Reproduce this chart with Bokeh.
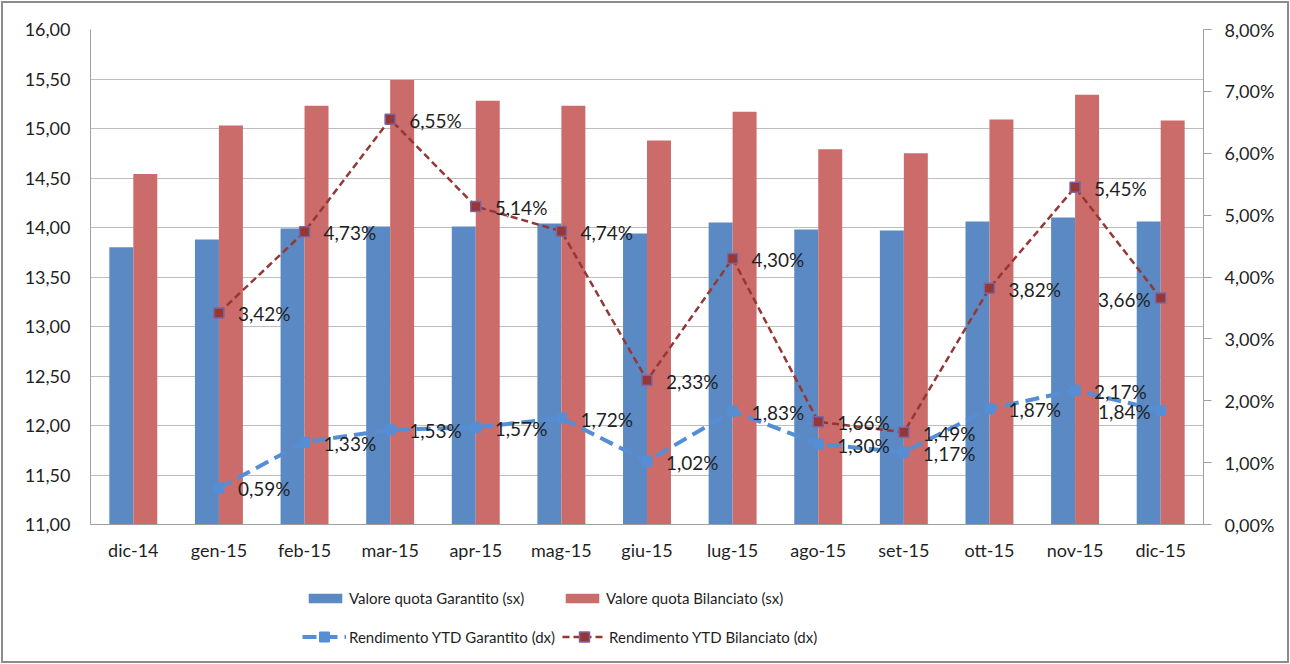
from bokeh.plotting import figure
from bokeh.layouts import column
from bokeh.models import (FactorRange, Range1d, LinearAxis, CustomJSTickFormatter,
                          FixedTicker, ColumnDataSource, InlineStyleSheet, Legend, LegendItem)
from bokeh.transform import dodge
from bokeh.core.properties import value
from bokeh.embed import file_html
from bokeh.resources import INLINE

months = ["dic-14", "gen-15", "feb-15", "mar-15", "apr-15", "mag-15", "giu-15",
          "lug-15", "ago-15", "set-15", "ott-15", "nov-15", "dic-15"]
valore_garantito = [13.80, 13.88, 13.99, 14.01, 14.01, 14.04, 13.94, 14.05, 13.98, 13.97, 14.06, 14.10, 14.06]
valore_bilanciato = [14.54, 15.03, 15.23, 15.49, 15.28, 15.23, 14.88, 15.17, 14.79, 14.75, 15.09, 15.34, 15.08]
rend_months = months[1:]
rend_garantito = [0.59, 1.33, 1.53, 1.57, 1.72, 1.02, 1.83, 1.30, 1.17, 1.87, 2.17, 1.84]
rend_bilanciato = [3.42, 4.73, 6.55, 5.14, 4.74, 2.33, 4.30, 1.66, 1.49, 3.82, 5.45, 3.66]
left_ticks = [11.0, 11.5, 12.0, 12.5, 13.0, 13.5, 14.0, 14.5, 15.0, 15.5, 16.0]
right_ticks = [0, 1, 2, 3, 4, 5, 6, 7, 8]
series_names = ["Valore quota Garantito (sx)", "Valore quota Bilanciato (sx)",
                "Rendimento YTD Garantito (dx)", "Rendimento YTD Bilanciato (dx)"]

BLUE_BAR = "#5B89C3"
RED_BAR = "#CB6C6A"
BLUE_LINE = "#558ED5"
RED_LINE = "#953735"
MARK_EDGE = "#8064A2"
FONT = "Lato"
TXT = "#1f1f1f"
AX = "#a0a0a0"

def pct(v):
    return ("%.2f" % v).replace(".", ",") + "%"

n = len(rend_months)
# last labels sit left of their marker so they stay inside the plot frame
offs = [19] * (n - 1) + [-10]
aligns = ["left"] * (n - 1) + ["right"]

bars = ColumnDataSource(dict(month=months, vg=valore_garantito, vb=valore_bilanciato))
lines = ColumnDataSource(dict(month=rend_months, rg=rend_garantito, rb=rend_bilanciato,
                              lg=[pct(v) for v in rend_garantito],
                              lb=[pct(v) for v in rend_bilanciato],
                              xo=offs, al=aligns))

p = figure(x_range=FactorRange(*months), y_range=Range1d(11, 16),
           frame_width=1113, frame_height=495,
           min_border_left=90, min_border_top=29, min_border_right=87, min_border_bottom=40,
           output_backend="svg", toolbar_location=None)
p.outline_line_color = None
p.background_fill_color = "white"
p.border_fill_color = None
p.extra_y_ranges = {"pct": Range1d(0, 8)}

# left axis
la = p.left[0]
la.ticker = FixedTicker(ticks=left_ticks)
la.formatter = CustomJSTickFormatter(code="return tick.toFixed(2).replace('.', ',');")
la.major_tick_out = 0
la.major_tick_in = 0
la.minor_tick_line_color = None
la.axis_line_color = AX
la.major_label_standoff = 20
la.major_label_text_font = FONT
la.major_label_text_font_size = "18px"
la.major_label_text_color = TXT

# right axis
ra = LinearAxis(y_range_name="pct", ticker=FixedTicker(ticks=right_ticks),
                formatter=CustomJSTickFormatter(code="return tick.toFixed(2).replace('.', ',') + '%';"))
ra.major_tick_out = 8
ra.major_tick_in = 0
ra.major_tick_line_color = AX
ra.minor_tick_line_color = None
ra.axis_line_color = AX
ra.major_label_standoff = 13
ra.major_label_text_font = FONT
ra.major_label_text_font_size = "18px"
ra.major_label_text_color = TXT
p.add_layout(ra, "right")

# bottom axis
ba = p.below[0]
ba.major_tick_out = 0
ba.major_tick_in = 0
ba.major_tick_line_color = None
ba.axis_line_color = AX
ba.major_label_standoff = 14
ba.major_label_text_font = FONT
ba.major_label_text_font_size = "18px"
ba.major_label_text_color = TXT

p.xgrid.grid_line_color = None
p.ygrid.ticker = FixedTicker(ticks=left_ticks)
p.ygrid.grid_line_color = "#bdbdbd"
p.ygrid.grid_line_width = 1

bar_style = [dict(fill_color=BLUE_BAR, line_color=None), dict(fill_color=RED_BAR, line_color=None)]
line_style = [dict(line_color=BLUE_LINE, line_width=4, line_dash="14 7"),
              dict(line_color=RED_LINE, line_width=2.5, line_dash="7 4")]
mark_style = [dict(marker="square", size=10, fill_color=BLUE_LINE, line_color=BLUE_LINE),
              dict(marker="square", size=10, fill_color=RED_LINE, line_color=MARK_EDGE, line_width=1.5)]

p.vbar(x=dodge("month", -0.14, range=p.x_range), top="vg", bottom=11, width=0.28,
       source=bars, **bar_style[0])
p.vbar(x=dodge("month", 0.14, range=p.x_range), top="vb", bottom=11, width=0.28,
       source=bars, **bar_style[1])
for i, col in enumerate(("rg", "rb")):
    p.line("month", col, source=lines, y_range_name="pct", **line_style[i])
    p.scatter("month", col, source=lines, y_range_name="pct", **mark_style[i])

for col, lab in (("rg", "lg"), ("rb", "lb")):
    p.text("month", col, text=lab, source=lines, y_range_name="pct",
           x_offset="xo", y_offset=1, text_align="al", text_baseline="middle",
           text_font=value(FONT), text_font_size="19px", text_color=TXT)

# legend strip below the chart (its keys are styled like the series; their
# own geometry lies outside this strip's view so only the legend shows)
p2 = figure(width=1290, height=100, x_range=Range1d(0, 1), y_range=Range1d(0, 1),
            x_axis_location=None, y_axis_location=None,
            min_border_left=0, min_border_right=0, min_border_top=0, min_border_bottom=0,
            output_backend="svg", toolbar_location=None)
p2.outline_line_color = None
p2.background_fill_color = None
p2.border_fill_color = None
p2.grid.visible = False

off = [-5.0]
lb_bars = [p2.quad(left=off, right=[-4.0], top=[-4.0], bottom=off, **bar_style[i]) for i in range(2)]
lb_lines = []
for i in range(2):
    r1 = p2.line(x=[-5.0, -4.0], y=[-5.0, -5.0], **line_style[i])
    r2 = p2.scatter(x=off, y=off, **mark_style[i])
    lb_lines.append([r1, r2])

def make_legend(items, loc, gw, gh, lh, lw):
    lgd = Legend(items=items, location=loc, orientation="horizontal",
                 border_line_color=None, background_fill_alpha=0,
                 padding=6, margin=0, glyph_width=gw, glyph_height=gh,
                 label_height=lh, label_width=lw, label_standoff=3, spacing=7,
                 label_text_font=FONT, label_text_font_size="15px", label_text_color=TXT)
    p2.add_layout(lgd, "center")
    return lgd

make_legend([LegendItem(label=series_names[0], renderers=[lb_bars[0]]),
             LegendItem(label=series_names[1], renderers=[lb_bars[1]])],
            (214, 57), 42, 12, 12, 205)
make_legend([LegendItem(label=series_names[2], renderers=lb_lines[0]),
             LegendItem(label=series_names[3], renderers=lb_lines[1])],
            (212, 15), 44, 25, 25, 203)

lay = column(p, p2, spacing=0)
lay.stylesheets = [InlineStyleSheet(css=":host { outline: 2px solid #8c8c8c; outline-offset: -3px; }")]

open("out.html", "w").write(file_html(lay, INLINE))
